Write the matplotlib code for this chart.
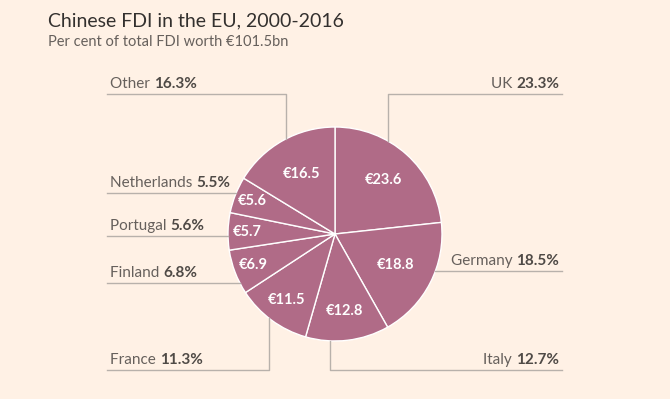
import numpy as np
import matplotlib.pyplot as plt

plt.rcParams['font.family'] = ['Lato', 'DejaVu Sans']

countries = ['UK', 'Germany', 'Italy', 'France', 'Finland', 'Portugal', 'Netherlands', 'Other']
values = [23.6, 18.8, 12.8, 11.5, 6.9, 5.7, 5.6, 16.5]
shares = ['23.3%', '18.5%', '12.7%', '11.3%', '6.8%', '5.6%', '5.5%', '16.3%']

# layout for value labels and leader lines (radius fraction, leader angle, style, side)
val_r = [0.68, 0.64, 0.72, 0.77, 0.82, 0.82, 0.83, 0.64]
lead_ang = [60.3, -20.2, 267.3, 232.0, 207.0, 181.0, 157.5, 117.0]
lead_kind = ['v', 'h', 'v', 'v', 'h', 'h', 'h', 'v']
lead_y = [1.306, None, -1.271, -1.271, None, None, None, 1.306]
lead_side = ['r', 'r', 'r', 'l', 'l', 'l', 'l', 'l']

bg = '#fff1e5'
slice_col = '#b06b87'
line_col = '#b8b1ab'
txt_col = '#66605c'
bold_col = '#4f4a46'

W, H = 670, 399
cx, cy, R = 335, 234, 107

fig = plt.figure(figsize=(W / 100, H / 100), dpi=100, facecolor=bg)
ax = fig.add_axes([0, 0, 1, 1])
ax.set_facecolor(bg)

wedges, _ = ax.pie(values, startangle=90, counterclock=False, colors=[slice_col] * len(values),
                   wedgeprops=dict(edgecolor='white', linewidth=1.0), radius=1)

ax.set_aspect('auto')
ax.set_xlim(-cx / R, (W - cx) / R)
ax.set_ylim(-(H - cy) / R, cy / R)
ax.axis('off')

left_x = (107 - cx) / R
right_x = (562 - cx) / R

for i, w in enumerate(wedges):
    mid = np.deg2rad((w.theta1 + w.theta2) / 2)
    ax.text(val_r[i] * np.cos(mid), val_r[i] * np.sin(mid), '€%.1f' % values[i],
            ha='center', va='center', color='white', fontsize=10.5, fontweight='bold')

    a = np.deg2rad(lead_ang[i])
    px, py = np.cos(a), np.sin(a)
    side_left = lead_side[i] == 'l'
    end_x = left_x if side_left else right_x
    if lead_kind[i] == 'v':
        ly = lead_y[i]
        ax.plot([px, px, end_x], [py, ly, ly], color=line_col, lw=1.0)
    else:
        ly = py
        ax.plot([px, end_x], [ly, ly], color=line_col, lw=1.0)

    ty = ly + 3 / R
    if side_left:
        t = ax.text(left_x + 3 / R, ty, countries[i] + ' ', ha='left', va='bottom',
                    color=txt_col, fontsize=11)
        ax.annotate(shares[i], xy=(1, 0), xycoords=t, ha='left', va='bottom',
                    color=bold_col, fontsize=11, fontweight='bold')
    else:
        t = ax.text(right_x - 3 / R, ty, shares[i], ha='right', va='bottom',
                    color=bold_col, fontsize=11, fontweight='bold')
        ax.annotate(countries[i] + ' ', xy=(0, 0), xycoords=t, ha='right', va='bottom',
                    color=txt_col, fontsize=11)

fig.text(48 / W, 1 - 26 / H, 'Chinese FDI in the EU, 2000-2016', fontsize=14,
         color='#33302e', va='baseline', ha='left')
fig.text(48 / W, 1 - 46 / H, 'Per cent of total FDI worth €101.5bn', fontsize=10.5,
         color=txt_col, va='baseline', ha='left')

fig.savefig('out.png', dpi=100, facecolor=bg)
